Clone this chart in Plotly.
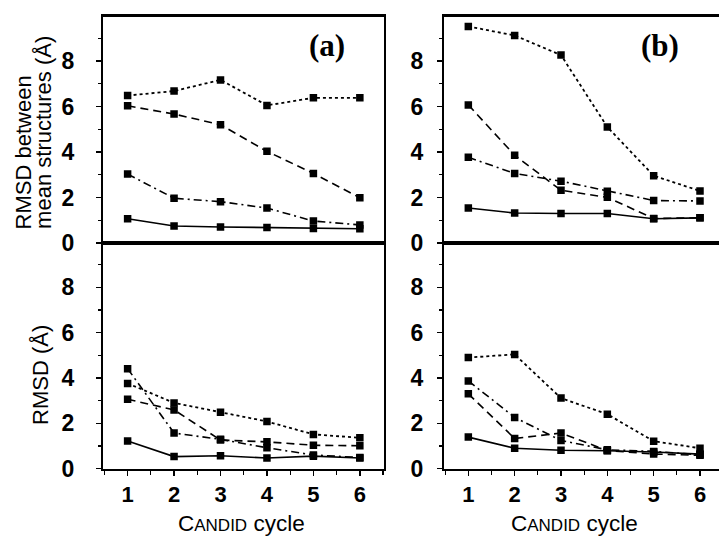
import plotly.graph_objects as go

cycles = [1, 2, 3, 4, 5, 6]
x_ticks = [1, 2, 3, 4, 5, 6]
y_ticks = [0, 2, 4, 6, 8]

# Panel (a), top: RMSD between mean structures
a_top_dot = [6.48, 6.68, 7.17, 6.05, 6.38, 6.38]
a_top_dash = [6.03, 5.67, 5.20, 4.03, 3.06, 1.99]
a_top_dashdot = [3.03, 1.97, 1.82, 1.54, 0.97, 0.80]
a_top_solid = [1.07, 0.75, 0.71, 0.68, 0.64, 0.63]

# Panel (b), top
b_top_dot = [9.52, 9.12, 8.26, 5.10, 2.96, 2.29]
b_top_dash = [6.07, 3.86, 2.32, 2.01, 1.08, 1.11]
b_top_dashdot = [3.77, 3.06, 2.72, 2.28, 1.87, 1.85]
b_top_solid = [1.54, 1.32, 1.30, 1.30, 1.07, 1.11]

# Panel (a), bottom: RMSD
a_bot_dot = [3.76, 2.90, 2.49, 2.08, 1.51, 1.36]
a_bot_dash = [3.06, 2.59, 1.26, 1.18, 1.03, 1.01]
a_bot_dashdot = [4.41, 1.57, 1.29, 0.92, 0.60, 0.49]
a_bot_solid = [1.22, 0.53, 0.57, 0.47, 0.55, 0.47]

# Panel (b), bottom
b_bot_dot = [4.90, 5.04, 3.11, 2.40, 1.21, 0.90]
b_bot_dash = [3.30, 1.33, 1.57, 0.80, 0.64, 0.59]
b_bot_dashdot = [3.87, 2.26, 1.24, 0.83, 0.76, 0.61]
b_bot_solid = [1.39, 0.90, 0.81, 0.79, 0.73, 0.64]

W, H = 719, 548

DOT = "dot"
DASH = "8px,5px"
DASHDOT = "8px,4px,2px,4px"
SOLID = "solid"

panels = [
    ("x", "y", [(a_top_dot, DOT), (a_top_dash, DASH), (a_top_dashdot, DASHDOT), (a_top_solid, SOLID)]),
    ("x2", "y2", [(b_top_dot, DOT), (b_top_dash, DASH), (b_top_dashdot, DASHDOT), (b_top_solid, SOLID)]),
    ("x3", "y3", [(a_bot_dot, DOT), (a_bot_dash, DASH), (a_bot_dashdot, DASHDOT), (a_bot_solid, SOLID)]),
    ("x4", "y4", [(b_bot_dot, DOT), (b_bot_dash, DASH), (b_bot_dashdot, DASHDOT), (b_bot_solid, SOLID)]),
]

fig = go.Figure()
for xa, ya, series in panels:
    for vals, dash in series:
        fig.add_trace(go.Scatter(
            x=cycles, y=vals, xaxis=xa, yaxis=ya, mode="lines+markers",
            line=dict(color="black", width=1.6 if dash != DOT else 1.8, dash=dash),
            marker=dict(symbol="square", size=7.5, color="black"),
            showlegend=False, hoverinfo="skip",
        ))

def px_x(p):
    return p / W

def px_y(p):
    return 1 - p / H

left_dom = [px_x(103), px_x(384)]
right_dom = [px_x(444), 1.0]
top_dom = [px_y(249), px_y(17)]
bot_dom = [px_y(480), px_y(249)]

sans = "Liberation Sans, Arial, Helvetica, sans-serif"
serif = "Liberation Serif, Times New Roman, serif"
ytickfont = dict(family=sans, size=23, color="black", weight="bold")
xtickfont = dict(family=sans, size=22, color="black", weight="bold")

def yax(dom, anchor, mirror, standoff):
    return dict(
        domain=dom, anchor=anchor, range=[0, 9.95], tickvals=y_ticks,
        ticks="outside", ticklen=5, tickwidth=1.5, tickcolor="black",
        minor=dict(tickvals=[1, 3, 5, 7, 9], ticks="outside", ticklen=3, tickwidth=1.2, tickcolor="black"),
        showline=True, linewidth=2, linecolor="black", mirror=mirror,
        showgrid=False, zeroline=False, tickfont=ytickfont, ticklabelstandoff=standoff,
    )

def xax(dom, anchor, rng, labels, mirror=True):
    d = dict(
        domain=dom, anchor=anchor, range=rng,
        showline=True, linewidth=2.2, linecolor="black", mirror=mirror,
        showgrid=False, zeroline=False,
    )
    if labels:
        d.update(tickvals=x_ticks, ticks="outside", ticklen=5, tickwidth=1.5, tickcolor="black",
                 minor=dict(tickvals=[0.5, 1.5, 2.5, 3.5, 4.5, 5.5, 6.5], ticks="outside", ticklen=4,
                            tickwidth=1.2, tickcolor="black"),
                 tickfont=xtickfont)
    else:
        d.update(showticklabels=False, ticks="")
    return d

left_rng = [0.47, 6.52]
right_rng = [0.475, 6.41]

fig.update_layout(
    width=W, height=H,
    margin=dict(l=0, r=0, t=0, b=0),
    paper_bgcolor="white", plot_bgcolor="white",
    xaxis=xax(left_dom, "y", left_rng, False),
    yaxis=yax(top_dom, "x", True, 17),
    xaxis2=xax(right_dom, "y2", right_rng, False),
    yaxis2=yax(top_dom, "x2", False, 9),
    xaxis3=xax(left_dom, "y3", left_rng, True),
    yaxis3=yax(bot_dom, "x3", True, 17),
    xaxis4=xax(right_dom, "y4", right_rng, True),
    yaxis4=yax(bot_dom, "x4", False, 9),
)

title_font = dict(family=sans, size=22, color="black")
cycle_title = "C<span style='font-size:17px'>ANDID</span> cycle"

annotations = [
    dict(text="<b>(a)</b>", x=px_x(327), y=px_y(47), font=dict(family=serif, size=31, color="black")),
    dict(text="<b>(b)</b>", x=px_x(660), y=px_y(47), font=dict(family=serif, size=31, color="black")),
    dict(text="RMSD between", x=px_x(23), y=px_y(237), textangle=-90, yanchor="bottom", font=title_font),
    dict(text="mean structures (Å)", x=px_x(44), y=px_y(237), textangle=-90, yanchor="bottom", font=title_font),
    dict(text="RMSD (Å)", x=px_x(41), y=px_y(384), textangle=-90, font=title_font),
    dict(text=cycle_title, x=px_x(241), y=px_y(536), font=dict(family=sans, size=22.5, color="black")),
    dict(text=cycle_title, x=px_x(574), y=px_y(536), font=dict(family=sans, size=22.5, color="black")),
]
for a in annotations:
    a.setdefault("yanchor", "middle")
    a.update(xref="paper", yref="paper", showarrow=False, xanchor="center")
fig.update_layout(annotations=annotations)

fig.write_html(
    "out.html",
    config={"displayModeBar": False, "staticPlot": True},
    post_script="document.body.style.margin='0';document.body.style.overflow='hidden';",
)
